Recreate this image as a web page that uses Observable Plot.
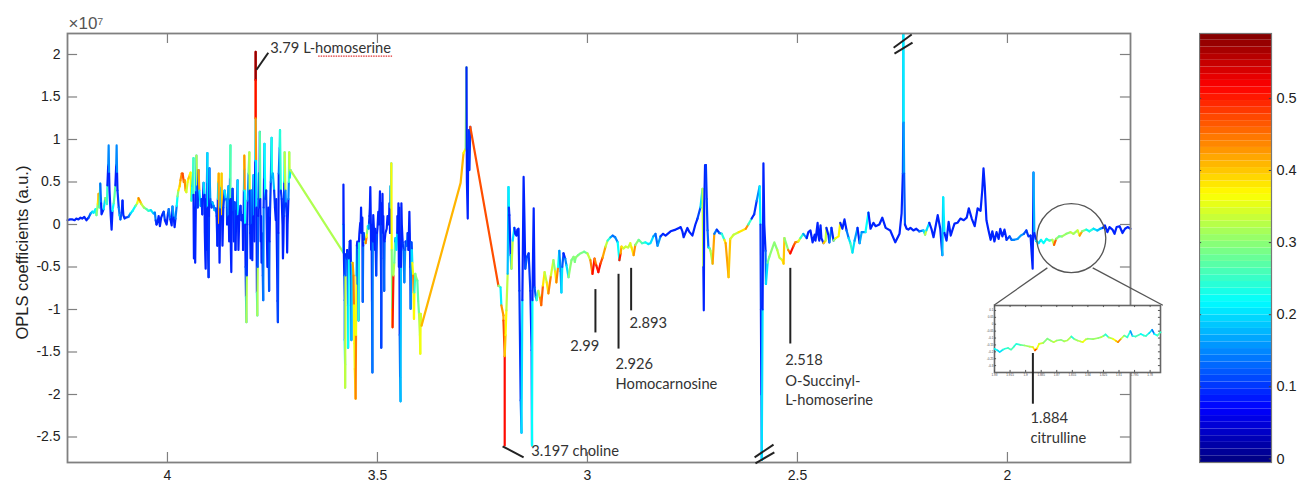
<!DOCTYPE html>
<html><head><meta charset="utf-8">
<script src="https://cdn.jsdelivr.net/npm/d3@7"></script>
<script src="https://cdn.jsdelivr.net/npm/@observablehq/plot@0.6"></script>
<style>
html,body{margin:0;padding:0;background:#fff}
#c{position:relative;width:1298px;height:485px;overflow:hidden}
</style></head><body><div id="c"></div>
<script>
// [ppm, coefficient (x 1e7), correlation r2]
const band42 = [
[4.238,.05,.09],[4.232,.06,.09],[4.226,.06,.09],[4.221,.05,.09],[4.217,.07,.09],[4.212,.06,.09],[4.207,.08,.09],[4.203,.07,.09],[4.198,.09,.09],[4.193,.05,.09],[4.188,.08,.12],
[4.183,.13,.17],[4.179,.15,.2],[4.176,.14,.21],[4.171,.18,.22],[4.169,.11,.3],[4.166,.24,.38],[4.164,.36,.42],[4.162,.2,.25],[4.160,.48,.13],[4.158,.25,.09],[4.157,.12,.09],
[4.152,.18,.2],[4.148,.31,.3],[4.144,.24,.25],[4.143,.46,.09],[4.141,.7,.15],[4.140,.93,.15],[4.139,.6,.09],[4.138,.4,.09],[4.135,.1,.09],[4.133,-.06,.09],[4.131,.16,.22],[4.128,.25,.27],[4.126,.34,.27],
[4.124,.46,.09],[4.122,.7,.15],[4.121,.93,.15],[4.120,.6,.09],[4.119,.4,.1],[4.116,.2,.14],[4.114,.11,.18],[4.112,.06,.12],[4.109,.14,.1],[4.107,.28,.09],[4.106,.18,.09],
[4.105,.11,.09],[4.102,.07,.09],[4.100,.08,.1],[4.093,.09,.14],[4.088,.13,.2],[4.083,.16,.22],[4.076,.22,.29],[4.072,.25,.36],[4.069,.31,.44],[4.065,.27,.4],[4.062,.24,.33],[4.056,.2,.3],
[4.050,.18,.26],[4.045,.16,.24],[4.040,.17,.2],[4.033,.13,.17],[4.030,.14,.14],[4.028,.05,.1],[4.026,.0,.09],[4.023,.04,.09],[4.021,.1,.09],[4.018,-.02,.09],[4.015,.08,.09],[4.012,.12,.09],[4.009,.15,.11],[4.006,.05,.09],
[4.002,.0,.09],[3.999,.12,.11],[3.997,.18,.14],[3.993,.06,.09],[3.990,-.01,.09],[3.988,.21,.16],[3.985,.08,.09],[3.983,-.03,.09],[3.981,.07,.14],[3.978,.22,.22],[3.976,.33,.3],[3.974,.4,.38],
[3.971,.45,.4],[3.969,.52,.43],[3.966,.6,.45],[3.964,.6,.47],[3.961,.5,.44],[3.959,.52,.43],[3.957,.4,.38],[3.955,.38,.34],[3.952,.5,.36],[3.950,.54,.4],[3.947,.58,.36],[3.945,.61,.37],[3.943,.28,.22],[3.941,.45,.2],[3.939,.6,.22],[3.938,.78,.26],
[3.938,.35,.09],[3.937,-.4,.09],[3.936,-.36,.09],[3.935,.2,.09],[3.934,-.45,.09],[3.933,.0,.09],[3.932,.4,.18],[3.931,.81,.32],[3.929,.45,.12],[3.928,.2,.1],[3.926,.64,.42],[3.924,.4,.2],[3.921,.22,.15],
[3.919,.3,.1],[3.917,.12,.09],[3.914,.49,.2],[3.912,.35,.09],[3.911,-.1,.09],[3.910,-.35,.09],[3.909,-.52,.09],[3.908,.3,.09],[3.907,-.3,.09],[3.906,.5,.14],[3.905,.84,.2],[3.904,.2,.09],[3.903,-.4,.09],[3.902,-.62,.1],[3.901,.1,.09],[3.900,.66,.16],
[3.898,.3,.12],[3.895,.2,.1],[3.893,.26,.18]];
const band38 = [
[3.890,.22,.14],[3.888,.17,.19],[3.885,.19,.12],[3.883,.1,.1],[3.881,-.25,.09],[3.880,.3,.2],[3.879,.5,.38],[3.878,.6,.42],[3.877,.0,.09],[3.876,-.45,.09],[3.874,.2,.18],[3.872,.45,.35],[3.871,.6,.4],[3.870,.1,.09],[3.869,-.25,.09],
[3.867,.2,.1],[3.864,.4,.2],[3.861,.3,.14],[3.859,.28,.16],[3.858,0,.09],[3.857,.2,.1],[3.855,.45,.2],[3.854,.1,.09],[3.853,-.2,.09],[3.852,.3,.12],[3.851,.55,.22],[3.850,.93,.27],[3.850,.3,.09],[3.849,-.3,.09],[3.848,-.56,.09],
[3.847,.1,.09],[3.845,.42,.11],[3.843,.15,.09],[3.842,-.2,.09],[3.840,.26,.11],[3.838,-.3,.09],[3.836,.16,.1],[3.835,.05,.09],[3.833,.52,.2],[3.832,.1,.09],[3.831,-.3,.09],[3.829,.1,.09],[3.826,.22,.1],[3.824,.05,.09],[3.821,.11,.1],[3.820,-.3,.09],[3.819,-.04,.09],
[3.818,.4,.2],[3.817,.65,.36],[3.817,.81,.43],[3.816,.4,.22],[3.815,.0,.09],[3.814,-.5,.11],[3.813,-.85,.18],[3.812,-1.15,.32],[3.811,-.6,.1],[3.810,0,.09],[3.809,.28,.16],[3.807,.6,.27],[3.805,.85,.33],[3.804,.4,.1],[3.803,-.1,.09],[3.802,-.4,.09],
[3.801,.1,.09],[3.800,.4,.15],[3.799,.0,.09],[3.798,-.42,.09],[3.797,.2,.09],[3.795,.58,.2],[3.794,.1,.09],[3.793,-.2,.09],[3.792,.3,.09],
[3.791,.75,.2],[3.790,1.25,.43],[3.790,1.7,.51],[3.790,2.03,.58],[3.790,1.7,.51],[3.790,1.25,.43],[3.789,.75,.2],[3.788,.2,.09],
[3.787,-.8,.2],[3.786,-1.07,.32],[3.785,-.5,.12],[3.784,.1,.09],[3.783,.3,.1],[3.782,.6,.2],[3.781,.2,.09],[3.780,1.09,.27],[3.779,.3,.09],[3.778,-.2,.09],[3.777,.1,.09],[3.776,-.45,.09],[3.775,-.1,.09],[3.774,-.3,.1],[3.773,-.6,.11],
[3.772,-.89,.14],[3.771,.2,.1],[3.770,.55,.14],[3.769,.95,.22],[3.767,.3,.09],[3.765,.4,.1],[3.763,-.2,.09],[3.762,-.5,.09],[3.761,.0,.09],[3.760,.2,.09],[3.758,-.78,.12],[3.757,-.2,.09],[3.756,.1,.1],[3.754,.5,.15],[3.752,1.02,.23],
[3.751,.55,.16],[3.749,.6,.18],[3.746,.4,.1],[3.744,.2,.09],[3.742,.05,.09],[3.741,.3,.09],[3.739,-.45,.09],[3.738,-.9,.1],[3.737,-1.15,.11],[3.736,-.1,.09],[3.735,.6,.14],[3.733,.9,.2],[3.732,1.11,.24],[3.730,.4,.1],[3.728,.3,.09],[3.726,.0,.09],[3.725,-.4,.09],
[3.724,-.2,.09],[3.723,.1,.1],[3.722,.5,.22],[3.721,.85,.33],[3.719,.4,.15],[3.718,.25,.1],[3.716,.1,.09],[3.715,-.33,.09],[3.714,.0,.09],[3.712,.3,.15],[3.711,.5,.25],[3.710,.85,.34],[3.709,.55,.2],[3.707,.64,.32]];
const band35 = [
[3.581,-.33,.2],[3.581,.0,.09],[3.581,.47,.09],[3.580,-.33,.09],[3.579,-.6,.12],[3.578,-.89,.14],[3.578,-1.36,.2],[3.577,-1.65,.29],[3.577,-1.92,.33],[3.576,-.6,.13],[3.575,-.35,.09],[3.573,-.4,.1],[3.572,-.3,.09],
[3.571,-.33,.1],[3.570,-.95,.14],[3.570,-1.45,.22],[3.568,-.4,.1],[3.566,-.2,.09],[3.564,-.19,.09],[3.563,-.6,.11],[3.562,-1.36,.18],[3.561,-.45,.28],
[3.559,-.45,.42],[3.557,-.6,.44],[3.556,-.95,.37],[3.555,-1.4,.36],[3.554,-1.7,.38],[3.552,-2.05,.44],[3.551,-1.3,.36],[3.550,-.6,.2],[3.549,-.25,.09],[3.548,-.2,.09],[3.547,-.7,.18],[3.546,-.3,.1],[3.545,-1.13,.24],[3.544,-.2,.09],
[3.543,-.1,.09],[3.541,.02,.09],[3.540,-.01,.09],[3.539,.2,.09],[3.538,-.1,.09],[3.536,.08,.09],[3.535,-.91,.13],[3.534,-.25,.09],[3.533,-.1,.11],
[3.530,-.2,.3],[3.528,-.22,.44],[3.526,-.15,.36],[3.525,-.1,.3],[3.523,-.02,.22],[3.521,-.05,.16],[3.520,.02,.1],[3.519,.1,.09],[3.518,.2,.09],[3.517,.44,.09],[3.516,.1,.09],[3.515,-.3,.09],[3.514,.0,.09],[3.513,-.9,.11],
[3.512,-1.74,.14],[3.511,-.2,.09],[3.510,.11,.09],[3.508,-.1,.09],[3.506,-.3,.09],[3.505,-.05,.09],[3.503,-.6,.11],[3.501,-.1,.09],[3.500,-.05,.09],[3.498,.15,.09],[3.497,.0,.09],[3.495,.2,.09],[3.494,.39,.09],[3.493,.0,.09],[3.492,-.3,.09],[3.491,-.8,.1],
[3.491,-1.45,.11],[3.490,.25,.09],[3.489,.0,.09],[3.488,.36,.09],[3.487,-.1,.09],[3.486,.1,.09],[3.485,-.4,.1],[3.484,-.78,.13],[3.483,-.2,.09],[3.481,-.1,.09],[3.478,-.05,.09],[3.476,.1,.09],[3.473,.0,.09],[3.471,.25,.1],[3.470,-.1,.09],[3.469,.45,.24],
[3.468,.2,.2],[3.467,.72,.37],[3.466,-.3,.3],[3.465,-1.0,.38],[3.464,-1.21,.5],[3.462,-.6,.32],[3.460,-.45,.28],[3.458,-.2,.14],[3.457,-.16,.2],[3.455,-.3,.2],[3.453,-.1,.1],
[3.452,.1,.09],[3.451,-.1,.09],[3.450,.25,.09],[3.449,-.5,.09],[3.448,.2,.09],[3.447,-1.3,.12],[3.446,-1.8,.15],[3.445,-2.08,.18],[3.444,-.5,.09],[3.443,.25,.09],[3.442,.0,.09],[3.440,-.21,.1],
[3.438,-.3,.13],[3.436,-.68,.15],[3.434,-.3,.12],[3.433,-.2,.1],[3.430,-.25,.13],[3.428,-.1,.1],[3.426,-.3,.09],[3.424,.15,.09],[3.423,-.1,.09],[3.422,-.5,.1],[3.421,-.99,.15],[3.419,-.21,.11],[3.418,-.3,.2],[3.417,-.45,.36],
[3.415,-.6,.44],[3.414,-.8,.38],[3.413,-1.11,.37],[3.412,-.8,.25],[3.410,-.58,.3],[3.408,-.62,.3],[3.405,-.66,.27],[3.403,-.9,.28],[3.401,-1.05,.32],[3.399,-1.3,.34],[3.398,-1.52,.36],[3.397,-1.05,.34],[3.395,-1.19,.41]];
const band32 = [
[3.302,.49,.41],[3.295,.84,.37],[3.290,.89,.3],[3.288,1.85,.09],[3.287,.5,.09],[3.285,.07,.09],[3.284,.9,.1],[3.283,1.11,.1],[3.281,.64,.1],
[3.279,1.15,.47],[3.212,-.72,.3],[3.207,-.74,.21],[3.205,-.95,.43],[3.200,-1.07,.42],[3.200,-1.13,.47],[3.197,-1.55,.51],[3.197,-2.6,.51],
[3.197,-1.55,.4],[3.195,-1.3,.37],[3.193,-1.01,.33],[3.190,-.58,.18],[3.188,.44,.21],[3.187,.2,.1],[3.186,.11,.09],[3.183,-.36,.18],[3.181,-.52,.33],[3.178,-.19,.2],
[3.174,-.04,.09],[3.172,-.11,.09],[3.169,-.13,.09],[3.167,-.06,.09],[3.164,-.05,.09],[3.162,-.78,.1],[3.159,-2.07,.13],[3.157,-2.45,.2],[3.155,-.89,.09],[3.152,.56,.09],
[3.150,.05,.09],[3.148,-.52,.12],[3.144,-.38,.11],[3.140,-.34,.1],[3.136,-.78,.09],[3.133,-1.48,.1],[3.132,-2.6,.22],[3.131,-.89,.09],[3.128,.19,.09],
[3.126,-.74,.12],[3.123,-.85,.17],[3.121,-.89,.25],[3.117,-.78,.33],[3.113,-.86,.42],[3.110,-.95,.46],[3.106,-.72,.38],[3.102,-.56,.33],[3.097,-.68,.38],[3.093,-.81,.44],[3.087,-.6,.34],[3.081,-.42,.3],[3.077,-.55,.38],[3.074,-.68,.44],
[3.070,-.5,.22],[3.067,-.31,.15],[3.064,-.55,.16],[3.062,-.8,.2],[3.060,-.5,.12],[3.057,-.34,.09],[3.053,-.4,.15],[3.050,-.48,.2],[3.045,-.62,.3],[3.041,-.5,.3],[3.038,-.42,.29],[3.033,-.38,.3],[3.030,-.44,.29],[3.028,-.39,.3],
[3.022,-.36,.29],[3.017,-.34,.29],[3.008,-.32,.28],[3.000,-.34,.33],[2.993,-.42,.44],[2.988,-.58,.51],[2.983,-.4,.44],[2.979,-.48,.5],[2.974,-.56,.51],[2.969,-.46,.47],[2.964,-.39,.42],[2.957,-.26,.33],[2.952,-.19,.24],
[2.945,-.15,.16],[2.940,-.13,.13],[2.934,-.15,.15],[2.928,-.21,.22],[2.924,-.42,.5],[2.921,-.34,.42],[2.919,-.26,.38],[2.914,-.28,.33],[2.909,-.26,.34],[2.903,-.27,.33],[2.898,-.22,.35],[2.895,-.27,.38],[2.890,-.36,.43],[2.886,-.24,.3],
[2.878,-.18,.28],[2.870,-.22,.25],[2.862,-.21,.22],[2.855,-.23,.2],[2.850,-.22,.2],[2.843,-.14,.16],[2.838,-.11,.13]];
const band27 = [
[2.833,-.25,.16],[2.826,-.14,.1],[2.820,-.11,.09],[2.814,-.13,.09],[2.802,-.08,.09],[2.790,-.06,.09],[2.782,-.04,.09],[2.778,-.03,.09],[2.774,-.08,.09],[2.771,-.15,.09],[2.762,-.04,.09],[2.757,-.09,.09],[2.750,-.13,.09],[2.743,.0,.09],[2.738,.07,.11],
[2.731,.2,.2],[2.726,.42,.33],[2.724,-.5,.09],[2.723,-1.01,.09],[2.722,.2,.09],[2.720,.7,.09],[2.718,.7,.1],[2.716,.3,.11],[2.714,-.07,.13],[2.712,-.27,.2],[2.709,-.28,.28],[2.707,-.31,.32],
[2.702,-.46,.42],[2.698,-.11,.14],[2.692,-.06,.1],[2.686,-.1,.14],[2.680,-.11,.24],[2.674,-.18,.38],[2.671,-.22,.42],[2.664,-.62,.4],[2.660,-.17,.34],[2.652,-.12,.33],[2.640,-.09,.38],[2.623,-.05,.43],[2.617,.0,.25],
[2.609,.07,.09],[2.603,.12,.1],[2.597,.28,.15],[2.590,.45,.21],[2.588,0,.1],[2.587,-1,.09],[2.586,-2,.14],[2.585,-2.77,.2],[2.583,-1,.09],[2.581,.72,.09],[2.579,0,.09],
[2.576,-.31,.13],[2.575,-.7,.2],[2.571,-.45,.28],[2.567,-.38,.3],[2.555,-.21,.3],[2.548,-.3,.33],[2.543,-.39,.33],[2.536,-.42,.37],[2.533,-.46,.4],[2.531,-.16,.3],
[2.522,-.3,.44],[2.517,-.34,.51],[2.510,-.26,.47],[2.505,-.21,.43],[2.498,-.2,.35],[2.493,-.16,.25],[2.486,-.11,.16]];
const band24 = [
[2.478,-.16,.09],[2.474,-.09,.09],[2.469,-.07,.09],[2.464,-.21,.09],[2.459,-.12,.09],[2.457,-.19,.09],[2.452,.02,.09],[2.450,-.13,.09],[2.448,-.19,.09],[2.445,-.01,.09],[2.443,-.16,.09],
[2.438,-.22,.4],[2.433,-.19,.33],[2.431,-.04,.09],[2.426,-.13,.09],[2.424,-.21,.14],[2.419,-.04,.09],[2.414,-.19,.3],[2.409,-.16,.37],[2.402,-.14,.37],[2.398,.02,.09],[2.393,-.05,.09],[2.388,.06,.09],
[2.383,-.07,.14],[2.378,-.16,.2],[2.374,-.22,.25],[2.369,-.33,.2],[2.364,-.19,.16],[2.357,-.04,.09],[2.352,-.22,.17],[2.347,-.09,.15],[2.338,-.09,.22],[2.331,.14,.09],[2.326,-.05,.09],[2.319,.02,.09],[2.314,-.02,.09],
[2.305,.0,.09],[2.298,.08,.09],[2.290,-.04,.09],[2.279,-.07,.09],[2.267,-.21,.09],[2.257,-.11,.09],[2.252,.13,.09],[2.249,.6,.12],[2.248,1.2,.16],[2.248,2.24,.21],[2.247,1.2,.16],[2.246,.6,.12],[2.244,.0,.09],
[2.240,-.05,.09],[2.236,-.06,.09],[2.231,-.04,.09],[2.224,-.07,.09],[2.217,-.05,.09],[2.210,-.08,.14],[2.200,-.07,.2],[2.196,-.12,.33],[2.193,-.07,.2],[2.186,.02,.09],[2.181,-.05,.09],[2.176,-.15,.09],[2.166,.11,.09],
[2.160,-.05,.09],[2.155,-.36,.18],[2.153,.32,.21],[2.150,-.1,.09],[2.145,-.19,.09],[2.140,.03,.09],[2.135,-.13,.09],[2.130,-.05,.09],[2.126,.01,.09],[2.119,.02,.09],[2.112,.07,.09],[2.104,.05,.09],[2.097,.08,.09],[2.092,.19,.09],
[2.085,.07,.09],[2.078,-.02,.09],[2.071,.19,.09],[2.064,.16,.09],[2.060,.4,.09],[2.057,.66,.09],[2.054,.45,.09],[2.050,.05,.09],[2.045,-.07,.09],[2.040,-.18,.09],[2.036,-.08,.09],[2.031,-.2,.09],[2.026,-.09,.09],[2.021,-.17,.09],[2.017,-.05,.09],
[2.012,-.14,.09],[2.007,-.06,.09],[2.002,-.18,.1],[1.995,-.14,.12],[1.990,-.18,.14],[1.984,-.18,.15],[1.976,-.17,.16],[1.968,-.13,.16],[1.961,-.11,.12],[1.955,-.07,.1],[1.950,-.14,.1],[1.945,-.13,.09],[1.940,-.52,.09],[1.939,.0,.09],[1.938,.61,.17],[1.936,-.1,.09]];
const band19 = [
[1.932,-.19,.21],[1.926,-.22,.2],[1.920,-.18,.22],[1.914,-.22,.22],[1.907,-.17,.23],[1.900,-.19,.27],[1.893,-.18,.33],[1.889,-.24,.46],[1.884,-.17,.3],[1.877,-.14,.28],[1.870,-.14,.31],[1.860,-.11,.3],[1.850,-.09,.33],[1.843,-.11,.31],[1.833,-.07,.34],[1.828,-.13,.42],
[1.822,-.08,.29],[1.812,-.06,.22],[1.805,-.08,.24],[1.795,-.05,.2],[1.786,-.07,.18],[1.779,-.05,.16],[1.773,-.04,.09],[1.768,-.01,.09],[1.762,-.09,.09],[1.757,-.03,.09],[1.750,-.06,.09],[1.745,-.11,.09],[1.740,-.03,.09],[1.733,-.02,.09],[1.726,-.1,.09],[1.720,-.05,.09],[1.714,-.03,.09],[1.707,-.05,.09]];

const insetPpm = [1.930,1.927,1.925,1.922,1.920,1.917,1.914,1.911,1.909,1.905,1.901,1.896,1.893,1.891,1.889,1.887,1.883,1.879,1.876,1.873,1.870,1.866,1.863,1.860,1.856,1.853,1.850,1.847,1.845,1.842,1.840,1.835,1.830,1.827,1.825,1.823,1.820,1.816,1.813,1.811,1.808,1.805,1.802,1.799,1.797,1.794,1.789,1.786,1.784,1.781,1.778,1.776,1.773,1.770];
const insetCoef = [-.178,-.19,-.202,-.185,-.178,-.172,-.185,-.16,-.142,-.15,-.154,-.162,-.166,-.19,-.175,-.142,-.135,-.105,-.118,-.13,-.118,-.113,-.124,-.118,-.089,-.108,-.118,-.125,-.13,-.11,-.105,-.108,-.1,-.093,-.085,-.074,-.095,-.105,-.12,-.13,-.105,-.082,-.095,-.05,-.085,-.089,-.07,-.082,-.085,-.065,-.04,-.07,-.082,-.058];
const insetR2 = [.22,.2,.2,.24,.24,.26,.26,.24,.24,.28,.31,.33,.38,.47,.36,.34,.3,.29,.31,.33,.3,.3,.32,.32,.24,.3,.32,.34,.36,.32,.3,.31,.3,.33,.27,.24,.32,.36,.4,.44,.33,.27,.24,.16,.24,.26,.22,.26,.24,.2,.14,.22,.27,.24];

const xTicks = [4,3.5,3,2.5,2];
const yTicks = [2,1.5,1,.5,0,-.5,-1,-1.5,-2,-2.5];
const barTicks = [0,.1,.2,.3,.4,.5];
const labels = [
  {x:3.755,y:2.07,t:"3.79 L-homoserine"},
  {x:3.134,y:-2.67,t:"3.197 choline"},
  {x:3.041,y:-1.43,t:"2.99"},
  {x:2.933,y:-1.65,t:"2.926"},
  {x:2.933,y:-1.88,t:"Homocarnosine"},
  {x:2.900,y:-1.16,t:"2.893"},
  {x:2.529,y:-1.60,t:"2.518"},
  {x:2.529,y:-1.85,t:"O-Succinyl-"},
  {x:2.529,y:-2.07,t:"L-homoserine"},
  {x:1.945,y:-2.28,t:"1.884"},
  {x:1.945,y:-2.52,t:"citrulline"}];
const leaders = [
  {x1:3.788,y1:1.82,x2:3.760,y2:2.02},
  {x1:3.202,y1:-2.61,x2:3.152,y2:-2.74},
  {x1:2.981,y1:-.76,x2:2.981,y2:-1.27},
  {x1:2.926,y1:-.58,x2:2.926,y2:-1.46},
  {x1:2.896,y1:-.51,x2:2.896,y2:-1.01},
  {x1:2.517,y1:-.51,x2:2.517,y2:-1.40}];
const breaks = [
  {x1:2.271,y1:2.08,x2:2.228,y2:2.235},
  {x1:2.269,y1:2.01,x2:2.226,y2:2.14},
  {x1:2.602,y1:-2.74,x2:2.557,y2:-2.59},
  {x1:2.600,y1:-2.81,x2:2.555,y2:-2.68}];
const magnifier = [
  {x1:1.905,y1:-.51,x2:2.032,y2:-.95},
  {x1:1.797,y1:-.51,x2:1.630,y2:-.95}];
const zoomCentre = [{x:1.848,y:-.16}];
const squiggle = [{x1:3.640,x2:3.464,y:1.98}];

function jet(t){
  const c = v => Math.round(255*Math.max(0,Math.min(1,v)));
  return `rgb(${c(1.5-Math.abs(4*t-3))},${c(1.5-Math.abs(4*t-2))},${c(1.5-Math.abs(4*t-1))})`;
}
const colorDomain = [-.005,.59];
const ink = "#333", rim = "#808080", sans = "Liberation Sans, Arial, sans-serif", note = "Lato, sans-serif";

const spectrum = [...band42,...band38,...band35,...band32,...band27,...band24,...band19].map(([ppm,coef,r2])=>({ppm,coef,r2}));
const inset = insetPpm.map((ppm,i)=>({ppm,coef:insetCoef[i],r2:insetR2[i]}));
const xd=[4.238,1.707], yd=[-2.8,2.247], tx=.024, ty=.118;
const dk = {stroke:"#222",strokeWidth:2};

const main = Plot.plot({
  width:1298,height:485,marginLeft:67,marginRight:168,marginTop:33,marginBottom:23,
  style:{fontFamily:sans,background:"transparent",overflow:"visible",position:"absolute",left:"0px",top:"0px"},
  x:{domain:xd,axis:null},y:{domain:yd,axis:null},
  color:{type:"linear",domain:colorDomain,interpolate:jet},
  marks:[
    Plot.ruleX(xTicks,{y1:yd[0],y2:yd[0]+ty,stroke:rim,strokeWidth:1.2}),
    Plot.ruleX(xTicks,{y1:yd[1]-ty,y2:yd[1],stroke:rim,strokeWidth:1.2}),
    Plot.ruleY(yTicks,{x1:xd[0],x2:xd[0]-tx,stroke:rim,strokeWidth:1.2}),
    Plot.ruleY(yTicks,{x1:xd[1]+tx,x2:xd[1],stroke:rim,strokeWidth:1.2}),
    Plot.axisX(xTicks,{anchor:"bottom",tickSize:0,tickPadding:8,fontSize:14,fill:"#222",label:null,tickFormat:String}),
    Plot.axisY(yTicks,{anchor:"left",tickSize:0,tickPadding:7,fontSize:14,fill:"#222",label:null,tickFormat:String}),
    Plot.line(spectrum,{x:"ppm",y:"coef",stroke:"r2",z:null,strokeWidth:2.2,strokeLinejoin:"round",strokeLinecap:"round",curve:"linear"}),
    Plot.frame({stroke:rim,strokeWidth:1.8}),
    Plot.text(["OPLS coefficients (a.u.)"],{x:xd[0],y:-.33,dx:-45,text:d=>d,rotate:-90,fontSize:16.5,fill:"#222"}),
    Plot.text(["×10⁷"],{x:xd[0],y:yd[1],dx:1,dy:-10,text:d=>d,textAnchor:"start",fontSize:17,fill:"#555"}),
    Plot.ruleY(squiggle,{x1:"x1",x2:"x2",y:"y",stroke:"#e03030",strokeWidth:1.3,strokeDasharray:"1.5 1"}),
    Plot.link(leaders,{x1:"x1",y1:"y1",x2:"x2",y2:"y2",...dk}),
    Plot.link(breaks,{x1:"x1",y1:"y1",x2:"x2",y2:"y2",...dk}),
    Plot.dot(zoomCentre,{x:"x",y:"y",r:34.5,stroke:"#555",strokeWidth:1.3,fill:"none"}),
    Plot.link(magnifier,{x1:"x1",y1:"y1",x2:"x2",y2:"y2",stroke:"#555",strokeWidth:1.3}),
    Plot.text(labels,{x:"x",y:"y",text:"t",textAnchor:"start",fontFamily:note,fontSize:14.7,fill:ink})
  ]
});

const inTicksX=[1.93,1.915,1.9,1.885,1.87,1.855,1.84,1.825,1.81,1.795,1.78];
const inTicksY=[.1,.05,0,-.05,-.1,-.15,-.2,-.25,-.3];
const insetD=[-.35,.136];
const insetPlot = Plot.plot({
  width:200,height:110,marginLeft:4,marginRight:30,marginTop:5,marginBottom:38,
  style:{fontFamily:sans,background:"transparent",overflow:"visible",position:"absolute",left:"990px",top:"300px"},
  x:{domain:[1.93,1.77],axis:null},y:{domain:insetD,axis:null},
  color:{type:"linear",domain:colorDomain,interpolate:jet},
  marks:[
    Plot.frame({fill:"#fff",stroke:"#666",strokeWidth:1.6}),
    Plot.ruleX(inTicksX,{y1:insetD[0],y2:insetD[0]+.015,stroke:"#555"}),
    Plot.ruleX(inTicksX,{y1:insetD[1]-.015,y2:insetD[1],stroke:"#555"}),
    Plot.ruleY(inTicksY,{x1:1.93,x2:1.928,stroke:"#555"}),
    Plot.ruleY(inTicksY,{x1:1.772,x2:1.77,stroke:"#555"}),
    Plot.axisX(inTicksX,{anchor:"bottom",tickSize:0,tickPadding:1,fontSize:3,fill:"#444",label:null,tickFormat:String}),
    Plot.axisY(inTicksY,{anchor:"left",tickSize:0,tickPadding:1,fontSize:3,fill:"#444",label:null,tickFormat:String}),
    Plot.line(inset,{x:"ppm",y:"coef",stroke:"r2",z:null,strokeWidth:1.7,strokeLinejoin:"round"}),
    Plot.ruleX([1.893],{y1:-.212,y2:-.58,stroke:"#222",strokeWidth:2})
  ]
});

const barSteps = d3.range(64).map(i=>({lo:colorDomain[0]+(colorDomain[1]-colorDomain[0])*i/64,hi:colorDomain[0]+(colorDomain[1]-colorDomain[0])*(i+1)/64}));
const bar = Plot.plot({
  width:99,height:485,marginLeft:0,marginRight:27,marginTop:33,marginBottom:23,
  style:{fontFamily:sans,background:"transparent",position:"absolute",left:"1199px",top:"0px"},
  x:{domain:[0,1],axis:null},y:{domain:colorDomain,axis:null},
  color:{type:"linear",domain:colorDomain,interpolate:jet},
  marks:[
    Plot.rectY(barSteps,{x1:0,x2:1,y1:"lo",y2:"hi",fill:d=>(d.lo+d.hi)/2}),
    Plot.ruleY(barTicks,{x1:0,x2:.03,stroke:"#444"}),
    Plot.ruleY(barTicks,{x1:.97,x2:1,stroke:"#444"}),
    Plot.frame({stroke:"#777",strokeWidth:1.2}),
    Plot.axisY(barTicks,{anchor:"right",tickSize:0,tickPadding:5,fontSize:14.5,fill:"#222",label:null,tickFormat:String})
  ]
});

document.getElementById("c").append(main,insetPlot,bar);
</script></body></html>
